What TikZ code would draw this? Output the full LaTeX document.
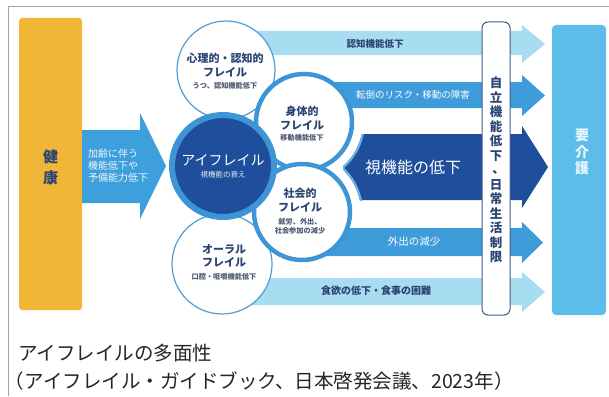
\documentclass[tikz,border=0pt]{standalone}
\usepackage{fontspec}
\setmainfont{Noto Sans CJK JP}
\definecolor{lightarr}{HTML}{A8DCF0}
\definecolor{midarr}{HTML}{3F9CDB}
\definecolor{darkblue}{HTML}{1F4E9C}
\definecolor{ringblue}{HTML}{3D95D5}
\definecolor{thinblue}{HTML}{4E9DD6}
\definecolor{notchblue}{HTML}{6CB3E4}
\definecolor{kaigo}{HTML}{5CBDEA}
\definecolor{yellowbox}{HTML}{F1B538}
\definecolor{navytext}{HTML}{2C4474}
\definecolor{subtext}{HTML}{4F5A72}
\definecolor{inarrow}{HTML}{3D9FDB}
\definecolor{boxline}{HTML}{3E5C8A}
\tikzset{
  frame/.style={draw=black!35, line width=0.8pt},
  healthbox/.style={fill=yellowbox, rounded corners=3pt, minimum width=63pt, minimum height=292pt},
  thincircle/.style={circle, draw=thinblue, line width=1.2pt, fill=white, minimum size=98pt},
  thickcircle/.style={circle, draw=ringblue, line width=4.5pt, fill=white, minimum size=96pt},
  bigcircle/.style={circle, draw=ringblue, line width=6pt, fill=darkblue, minimum size=102pt},
  ctitle/.style={text=navytext, font=\fontsize{11}{13}\selectfont\bfseries},
  csub/.style={text=subtext, font=\fontsize{7.2}{9}\selectfont\bfseries, align=center},
  darklabel/.style={text=navytext, font=\fontsize{9.5}{11}\selectfont\bfseries},
  whitelabel/.style={text=white, font=\fontsize{9.5}{11}\selectfont},
  vtext/.style={align=center},
}
\newcommand\myarrow[7]{%
  \fill[#1] (#2,#3) -- (522,#3) -- (522,#5) -- (#7,{(#5+#6)/2}) -- (522,#6) -- (522,#4) -- (#2,#4) -- cycle;}
\begin{document}
\begin{tikzpicture}[x=1pt,y=-1pt, every node/.style={inner sep=0pt, outer sep=0pt}]
\useasboundingbox (0,0) rectangle (609,396);
\fill[white] (0,0) rectangle (609,396);
\coordinate (frameA) at (8,396);
\coordinate (frameB) at (8,6.5);
\coordinate (frameC) at (609,6.5);
\draw[frame] (frameA) -- (frameB) -- (frameC);

% health box
\node[healthbox] (kenko) at (50.5,164) {};
\node[vtext, text=navytext, font=\fontsize{15}{21}\selectfont\bfseries] (kenkoT) at (50.5,167) {健\\康};

% input arrow
\fill[inarrow] (82,130) -- (140,130) -- (140,113) -- (166,166) -- (140,219) -- (140,203) -- (82,203) -- cycle;
\node[align=left, anchor=west, text=white!92!inarrow, font=\fontsize{10}{12}\selectfont] (ageT) at (88,166) {加齢に伴う\\機能低下や\\予備能力低下};

% horizontal arrows
\myarrow{lightarr}{240}{31}{55}{25}{63}{545}
\myarrow{midarr}{300}{82}{108}{75}{116}{545}
\myarrow{midarr}{300}{228}{256}{222}{263}{543}
\myarrow{lightarr}{240}{278}{305}{272}{312}{545}

% dark arrow with concave tail
\begin{scope}[even odd rule]
  \clip (330,100) rectangle (560,220) (304,122) circle[radius=59] (302,212) circle[radius=59];
  \fill[darkblue] (343,134) -- (522,134) -- (522,126) -- (548,167) -- (522,208) -- (522,200) -- (343,200) -- cycle;
  \clip (343,134) rectangle (522,200);
  \draw[notchblue, line width=4pt] (304,122) circle[radius=59] (302,212) circle[radius=59];
\end{scope}

% circles
\node[thincircle] (psy) at (226,70) {};
\node[thincircle, minimum size=100pt] (oral) at (222,264) {};
\node[thickcircle] (phys) at (304,122) {};
\node[thickcircle] (soc) at (302,212) {};
\node[bigcircle] (eye) at (223,166) {};

% circle texts
\node[ctitle] (psyT1) at (225,58) {心理的・認知的};
\node[ctitle] (psyT2) at (225,72) {フレイル};
\node[csub] (psyS) at (225,86) {うつ、認知機能低下};

\node[ctitle] (physT1) at (302,111) {身体的};
\node[ctitle] (physT2) at (302,125) {フレイル};
\node[csub] (physS) at (302,138) {移動機能低下};

\node[text=white, font=\fontsize{14}{16}\selectfont] (eyeT) at (223,160) {アイフレイル};
\node[text=white!90!darkblue, font=\fontsize{7.5}{9}\selectfont] (eyeS) at (223,175) {視機能の衰え};

\node[ctitle] (socT1) at (300,193) {社会的};
\node[ctitle] (socT2) at (300,207) {フレイル};
\node[csub, font=\fontsize{7.2}{9.5}\selectfont\bfseries] (socS) at (300,226.5) {就労、外出、\\社会参加の減少};

\node[ctitle] (oralT1) at (224,249) {オーラル};
\node[ctitle] (oralT2) at (224,262) {フレイル};
\node[csub] (oralS) at (224,277) {口腔・咀嚼機能低下};

% arrow labels
\node[darklabel] (a1T) at (375,44) {認知機能低下};
\node[whitelabel] (a2T) at (413,95) {転倒のリスク・移動の障害};
\node[text=white, font=\fontsize{16}{18}\selectfont] (a3T) at (413,167) {視機能の低下};
\node[whitelabel, font=\fontsize{10.5}{12}\selectfont] (a4T) at (414,242) {外出の減少};
\node[darklabel, font=\fontsize{10}{12}\selectfont\bfseries] (a5T) at (376,291) {食欲の低下・食事の困難};

% vertical white box
\node[draw=boxline, line width=1pt, fill=white, rounded corners=6pt, minimum width=28pt, minimum height=293pt] (jiritsu) at (496,168.5) {};
\node[vtext, text=navytext, font=\fontsize{12.5}{14.5}\selectfont\bfseries] (jiritsuT) at (496,170)
  {自\\立\\機\\能\\低\\下\\\hspace*{0.4em}\raisebox{0.08em}{、}\\日\\常\\生\\活\\制\\限};

% kaigo box
\node[fill=kaigo, rounded corners=4pt, minimum width=54pt, minimum height=290pt] (kaigoBox) at (579,170) {};
\node[vtext, text=white!88!kaigo, font=\fontsize{14}{16.5}\selectfont\bfseries] (kaigoT) at (582,152) {要\\介\\護};

% caption
\node[anchor=west, text=black!85, font=\fontsize{19.5}{22}\selectfont] (cap1) at (18,353) {アイフレイルの多面性};
\node[anchor=west, text=black!85, font=\fontsize{19.5}{22}\selectfont] (cap2) at (5,381) {（アイフレイル・ガイドブック、日本啓発会議、2023年）};
\end{tikzpicture}
\end{document}
